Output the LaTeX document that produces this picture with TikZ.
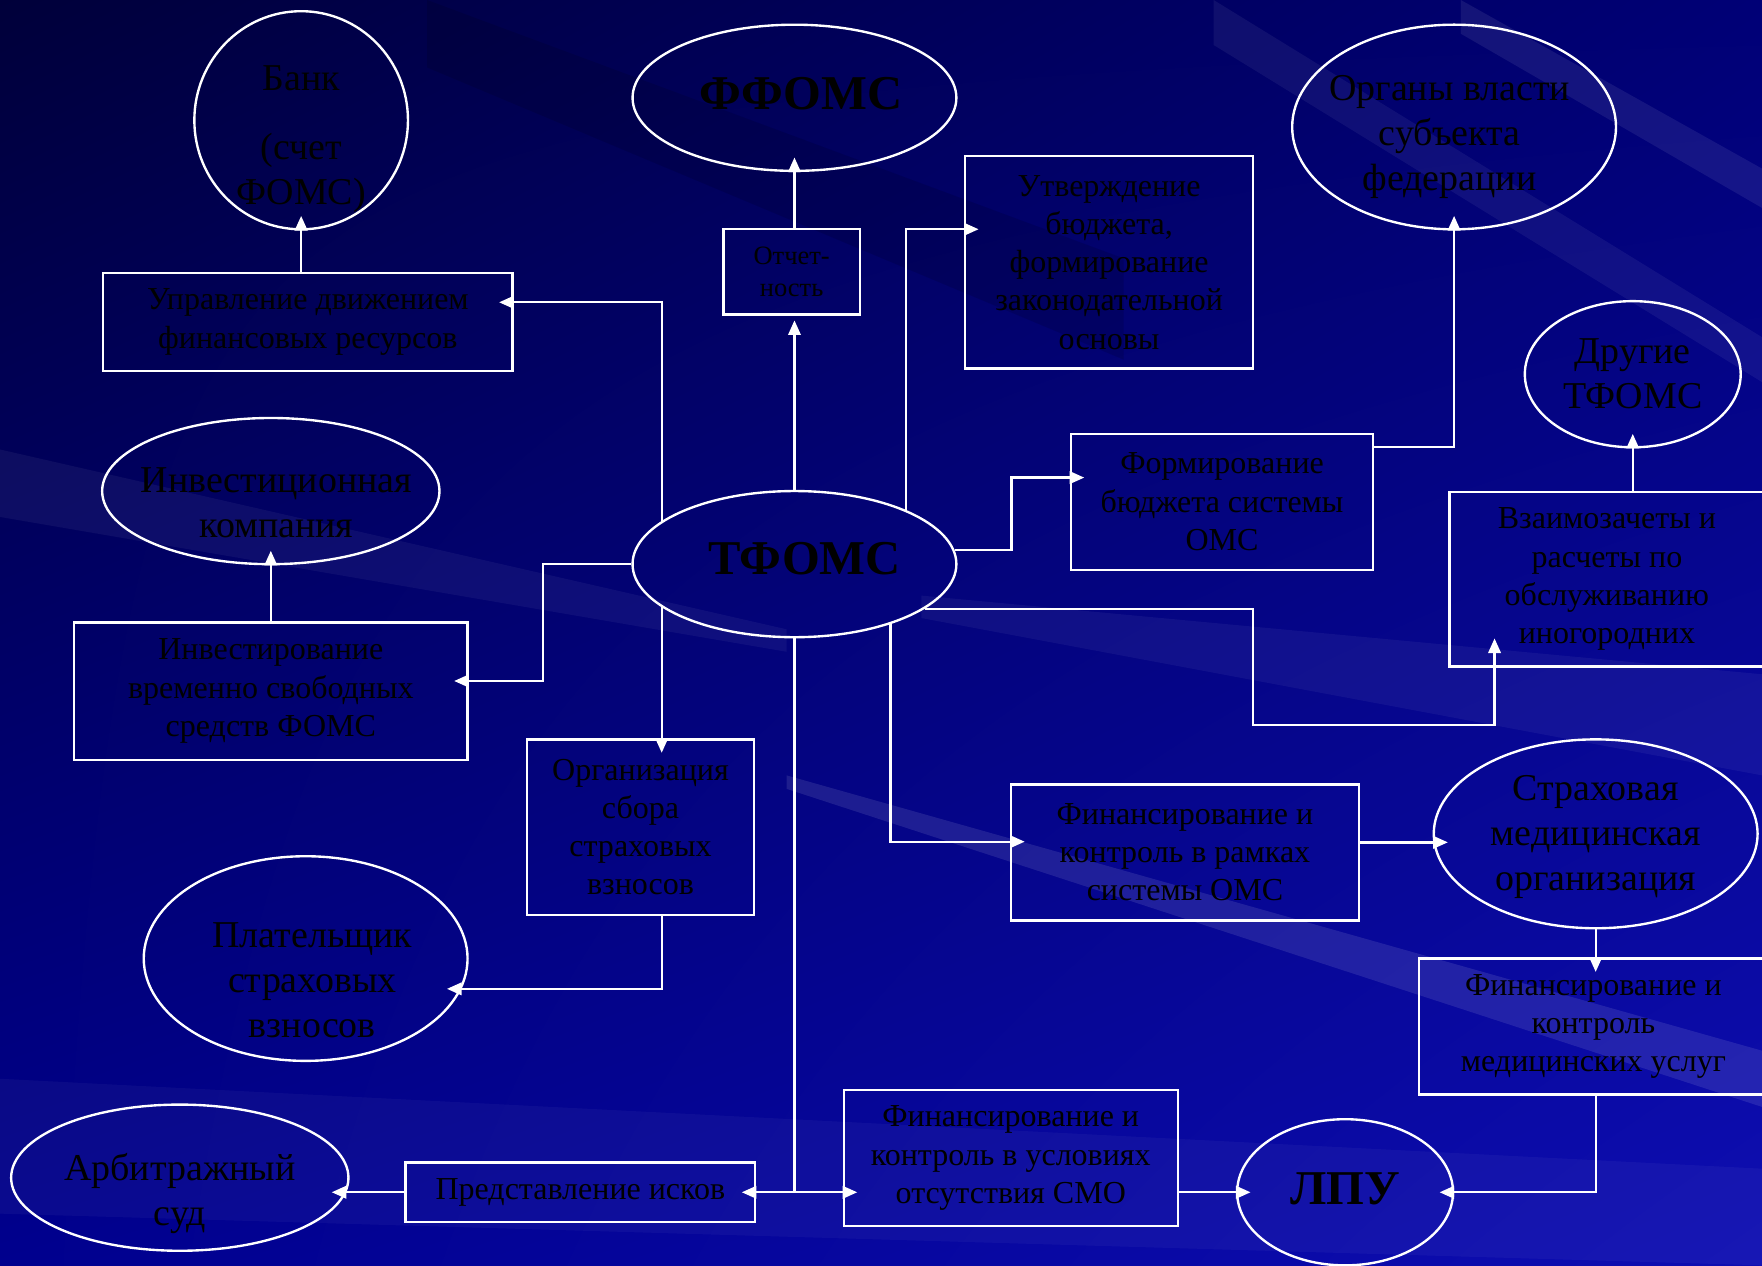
\documentclass[tikz,border=0pt]{standalone}
\usepackage{fontspec}
\setmainfont{Liberation Serif}
\usetikzlibrary{positioning,shapes.geometric,arrows.meta,shadings}

\definecolor{bgtl}{RGB}{0,0,58}
\definecolor{bgtr}{RGB}{0,0,118}
\definecolor{bgbl}{RGB}{0,0,142}
\definecolor{bgbr}{RGB}{14,14,178}

\tikzset{
  box/.style={draw=white, line width=0.6pt, align=center, inner sep=0pt,
    font=\fontsize{8.1}{9.68}\selectfont},
  oval/.style={draw=white, line width=0.6pt, ellipse, inner sep=0pt},
  otext/.style={align=center, font=\fontsize{9.6}{11.38}\selectfont},
  bigtext/.style={font=\fontsize{12.3}{14}\selectfont\bfseries},
  arr/.style={white, line width=0.6pt, ->, >={Triangle[length=1.3mm,width=1.1mm]},
    shorten >=-1.3mm},
}

\begin{document}
\begin{tikzpicture}[x=0.01cm, y=-0.01cm]

  % background
  \useasboundingbox (0,0) rectangle (1568,1126);
  \shade[upper left=bgtl, upper right=bgtr, lower left=bgbl, lower right=bgbr]
    (0,0) rectangle (1568,1126);
  \foreach \xa/\ya/\xb/\yb/\wa/\wb/\op in {
      700/690/1568/935/12/50/0.10,
      820/530/1568/600/20/90/0.05,
      1300/0/1568/150/30/35/0.08,
      1080/0/1568/300/40/40/0.06,
      0/400/700/560/60/20/0.05,
      0/960/1568/1040/120/86/0.04}
    \fill[white, opacity=\op] (\xa,\ya) -- (\xb,\yb) -- (\xb,\yb+\wb) -- (\xa,\ya+\wa) -- cycle;
  \foreach \xa/\ya/\xb/\yb/\wa/\wb/\op in {
      380/0/1000/230/60/90/0.12}
    \fill[black, opacity=\op] (\xa,\ya) -- (\xb,\yb) -- (\xb,\yb+\wb) -- (\xa,\ya+\wa) -- cycle;

  % ovals
  \node[oval, minimum width=1.90cm, minimum height=1.94cm,
    label={[otext, yshift=-1.7mm]center:Банк\\[2.1mm](счет\\ФОМС)}] (bank) at (268,107) {};
  \node[oval, minimum width=2.88cm, minimum height=1.30cm,
    label={[bigtext, xshift=0.6mm, yshift=0.4mm]center:ФФОМС}] (ffoms) at (707,87) {};
  \node[oval, minimum width=2.88cm, minimum height=1.82cm,
    label={[otext, xshift=-0.4mm, yshift=-0.9mm]center:Органы власти\\субъекта\\федерации}] (organs) at (1294,113) {};
  \node[oval, minimum width=1.92cm, minimum height=1.30cm,
    label={[otext]center:Другие\\ТФОМС}] (othertf) at (1453,333) {};
  \node[oval, minimum width=3.00cm, minimum height=1.30cm,
    label={[otext, xshift=0.5mm, yshift=-1mm]center:Инвестиционная\\компания}] (invcomp) at (241,437) {};
  \node[oval, minimum width=2.88cm, minimum height=1.30cm,
    label={[bigtext, xshift=0.9mm, yshift=0.5mm]center:ТФОМС}] (tfoms) at (707,502) {};
  \node[oval, minimum width=2.88cm, minimum height=1.82cm,
    label={[otext, xshift=0.6mm, yshift=-1.9mm]center:Плательщик\\страховых\\взносов}] (payer) at (272,853) {};
  \node[oval, minimum width=2.88cm, minimum height=1.68cm,
    label={[otext, yshift=-0.3mm]center:Страховая\\медицинская\\организация}] (smo) at (1420,742) {};
  \node[oval, minimum width=3.00cm, minimum height=1.30cm,
    label={[otext, yshift=-1.4mm]center:Арбитражный\\суд}] (arbitr) at (160,1048) {};
  \node[oval, minimum width=1.92cm, minimum height=1.30cm,
    label={[bigtext, yshift=0.3mm]center:ЛПУ}] (lpu) at (1197,1061) {};

  % boxes
  \node[box, minimum width=3.64cm, minimum height=0.87cm] (upr) at (274,286.5)
    {Управление движением\\финансовых ресурсов};
  \node[box, minimum width=1.21cm, minimum height=0.76cm,
    font=\fontsize{6.7}{7.97}\selectfont] (otch) at (704.5,242) {Отчет-\\ность};
  \node[box, minimum width=2.56cm, minimum height=1.89cm] (utv) at (987,233.5)
    {Утверждение\\бюджета,\\формирование\\законодательной\\основы};
  \node[box, minimum width=2.69cm, minimum height=1.21cm] (formbud) at (1087.5,446.5)
    {Формирование\\бюджета системы\\ОМС};
  \node[box, minimum width=2.80cm, minimum height=1.55cm] (vzaim) at (1430,515.5)
    {Взаимозачеты и\\расчеты по\\обслуживанию\\иногородних};
  \node[box, minimum width=3.50cm, minimum height=1.22cm] (invest) at (241,615)
    {Инвестирование\\временно свободных\\средств ФОМС};
  \node[box, minimum width=2.02cm, minimum height=1.56cm] (orgsb) at (570,736)
    {Организация\\сбора\\страховых\\взносов};
  \node[box, minimum width=3.09cm, minimum height=1.21cm] (finoms) at (1054.5,758.5)
    {Финансирование и\\контроль в рамках\\системы ОМС};
  \node[box, minimum width=3.10cm, minimum height=1.21cm] (finmed) at (1418,913.5)
    {Финансирование и\\контроль\\медицинских услуг};
  \node[box, minimum width=3.11cm, minimum height=0.53cm] (isk) at (516.5,1061)
    {Представление исков};
  \node[box, minimum width=2.97cm, minimum height=1.21cm] (fincmo) at (899.5,1030.5)
    {Финансирование и\\контроль в условиях\\отсутствия СМО};

  % links
  \draw[arr] (bank.south |- upr.north) -- (bank.south);
  \draw[arr] (tfoms.162) |- (upr.east |- 0,269);
  \draw[arr, shorten >=0.4mm] (tfoms.north) -- (tfoms.north |- otch.south);
  \draw[arr] (tfoms.north |- otch.north) -- (ffoms.south);
  \draw[arr] (tfoms.26) |- (utv.west |- 0,204);
  \draw[arr] (tfoms.5) -| (900,425) -- (formbud.west |- 0,425);
  \draw[arr] (formbud.east |- 0,398) -| (organs.south);
  \draw[arr] (othertf.south |- vzaim.north) -- (othertf.south);
  \draw[arr, shorten >=-2.6mm] (tfoms.-19) -| (1115,645) -| (vzaim.south -| 1330,0);
  \draw[arr] (tfoms.-32) |- (finoms.west |- 0,749);
  \draw[arr] (finoms.east |- smo.183) -- (smo.183);
  \draw[arr] (smo.south) -- (smo.south |- finmed.north);
  \draw[arr] (smo.south |- finmed.south) |- (lpu.east);
  \draw[arr] (fincmo.east |- lpu.west) -- (lpu.west);
  \draw[arr] (tfoms.south) |- (fincmo.west |- lpu.west);
  \draw[arr] (tfoms.south |- isk.east) -- (isk.east);
  \draw[arr] (isk.west |- arbitr.-5) -- (arbitr.-5);
  \draw[arr] (tfoms.west) -| (483,606) -- (invest.east |- 0,606);
  \draw[arr] (invest.north) -- (invcomp.south);
  \draw[arr] (tfoms.198) -- (tfoms.198 |- orgsb.north);
  \draw[arr] (tfoms.198 |- orgsb.south) |- (payer.-11);

\end{tikzpicture}
\end{document}
